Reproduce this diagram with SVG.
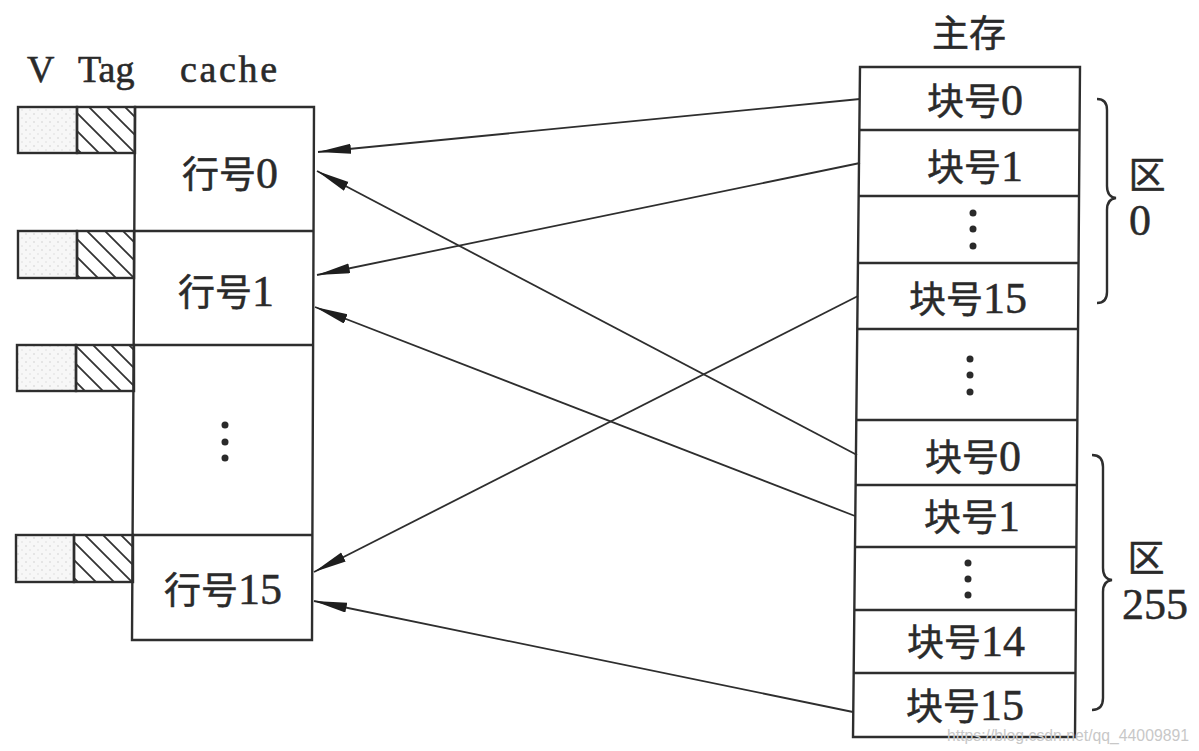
<svg xmlns="http://www.w3.org/2000/svg" width="1199" height="751" viewBox="0 0 1199 751">
<style>
.box{fill:#fff;stroke:#2e2e2e;stroke-width:2.4}
.ln{stroke:#2e2e2e;stroke-width:2.4;fill:none}
.v{fill:url(#dots);stroke:#2e2e2e;stroke-width:2.4}
.t{fill:url(#hatch);stroke:#2e2e2e;stroke-width:2.4}
.lbl{font-family:"Liberation Serif","Noto Sans CJK SC",serif;font-size:37px;fill:#2a2a2a;stroke:#2a2a2a;stroke-width:0.5;text-anchor:middle}
.num{font-family:"Liberation Serif",serif;font-size:44px}
.hdr{font-family:"Liberation Serif","Noto Sans CJK SC",serif;font-size:38px;fill:#2a2a2a;stroke:#2a2a2a;stroke-width:0.6}
.dot{fill:#2a2a2a}
.conn{stroke:#2e2e2e;stroke-width:1.8;fill:none;marker-end:url(#ah)}
.brace{stroke:#2e2e2e;stroke-width:2.4;fill:none}
.wm{font-family:"Liberation Sans",sans-serif;font-size:17px;fill:#c8c8c8}
</style>
<defs>
<pattern id="hatch" patternUnits="userSpaceOnUse" width="18" height="18">
<path d="M-4,-4 L22,22 M-4,14 L4,22 M14,-4 L22,4" stroke="#333" stroke-width="1.8"/>
</pattern>
<pattern id="dots" patternUnits="userSpaceOnUse" width="8" height="8">
<rect width="8" height="8" fill="#f7f7f7"/>
<circle cx="2" cy="2" r="0.8" fill="#d0d0d0"/>
<circle cx="6" cy="6" r="0.8" fill="#dcdcdc"/>
</pattern>
<marker id="ah" markerUnits="userSpaceOnUse" markerWidth="34" markerHeight="12" refX="33" refY="5" orient="auto">
<path d="M0,0 L33,5 L0,10 Z" fill="#1e1e1e"/>
</marker>
</defs>
<rect width="1199" height="751" fill="#fff"/>

<g id="headers">
<text class="hdr" x="27" y="82">V</text>
<text class="hdr" x="78" y="82">Tag</text>
<text class="hdr" x="180" y="82" textLength="97">cache</text>
<text class="lbl" x="969" y="47">主存</text>
</g>

<g id="cache">
<polygon class="box" points="135,107 314,107 312,640 132,640"/>
<line class="ln" x1="135" y1="231" x2="314" y2="231"/>
<line class="ln" x1="134" y1="345" x2="313" y2="345"/>
<line class="ln" x1="133" y1="535" x2="312" y2="535"/>
</g>

<g id="cache-line0">
<rect class="v" x="18" y="107" width="59" height="46"/>
<rect class="t" x="77" y="107" width="58" height="46"/>
<text class="lbl" x="230" y="188">行号<tspan class="num">0</tspan></text>
</g>
<g id="cache-line1">
<rect class="v" x="18" y="231" width="59" height="47"/>
<rect class="t" x="77" y="231" width="57" height="47"/>
<text class="lbl" x="226" y="306">行号<tspan class="num">1</tspan></text>
</g>
<g id="cache-dots">
<rect class="v" x="17" y="345" width="59" height="46"/>
<rect class="t" x="76" y="345" width="58" height="46"/>
<circle class="dot" cx="225" cy="425" r="3.5"/>
<circle class="dot" cx="225" cy="442" r="3.5"/>
<circle class="dot" cx="225" cy="458" r="3.5"/>
</g>
<g id="cache-line15">
<rect class="v" x="16" y="535" width="58" height="47"/>
<rect class="t" x="74" y="535" width="59" height="47"/>
<text class="lbl" x="223" y="604">行号<tspan class="num">15</tspan></text>
</g>

<g id="memory">
<polygon class="box" points="860,67 1080,67 1075,737 853,737"/>
<line class="ln" x1="859" y1="130" x2="1080" y2="130"/>
<line class="ln" x1="859" y1="196" x2="1079" y2="196"/>
<line class="ln" x1="858" y1="263" x2="1078" y2="263"/>
<line class="ln" x1="857" y1="329" x2="1078" y2="329"/>
<line class="ln" x1="856" y1="420" x2="1077" y2="420"/>
<line class="ln" x1="856" y1="485" x2="1077" y2="485"/>
<line class="ln" x1="855" y1="547" x2="1076" y2="547"/>
<line class="ln" x1="854" y1="610" x2="1076" y2="610"/>
<line class="ln" x1="854" y1="673" x2="1075" y2="673"/>
</g>
<g id="mem-z0-b0"><text class="lbl" x="975" y="115">块号<tspan class="num">0</tspan></text></g>
<g id="mem-z0-b1"><text class="lbl" x="975" y="181">块号<tspan class="num">1</tspan></text></g>
<g id="mem-z0-dots">
<circle class="dot" cx="973" cy="213" r="3.5"/>
<circle class="dot" cx="973" cy="229" r="3.5"/>
<circle class="dot" cx="973" cy="246" r="3.5"/>
</g>
<g id="mem-z0-b15"><text class="lbl" x="968" y="313">块号<tspan class="num">15</tspan></text></g>
<g id="mem-mid-dots">
<circle class="dot" cx="970" cy="359" r="3.5"/>
<circle class="dot" cx="970" cy="375" r="3.5"/>
<circle class="dot" cx="970" cy="392" r="3.5"/>
</g>
<g id="mem-z255-b0"><text class="lbl" x="973" y="471">块号<tspan class="num">0</tspan></text></g>
<g id="mem-z255-b1"><text class="lbl" x="972" y="531">块号<tspan class="num">1</tspan></text></g>
<g id="mem-z255-dots">
<circle class="dot" cx="968" cy="563" r="3.5"/>
<circle class="dot" cx="968" cy="579" r="3.5"/>
<circle class="dot" cx="968" cy="595" r="3.5"/>
</g>
<g id="mem-z255-b14"><text class="lbl" x="966" y="656">块号<tspan class="num">14</tspan></text></g>
<g id="mem-z255-b15"><text class="lbl" x="965" y="720">块号<tspan class="num">15</tspan></text></g>

<g id="zone0">
<path class="brace" d="M1097,99 Q1107,99 1107,110 L1107,186 Q1107,197 1116,198 Q1107,199 1107,210 L1107,292 Q1107,303 1097,303"/>
<text class="lbl" x="1147" y="189">区</text>
<text class="lbl" x="1140" y="235"><tspan class="num">0</tspan></text>
</g>
<g id="zone255">
<path class="brace" d="M1092,455 Q1103,455 1103,467 L1103,568 Q1103,579 1112,580 Q1103,581 1103,592 L1103,698 Q1103,710 1092,710"/>
<text class="lbl" x="1146" y="572">区</text>
<text class="lbl" x="1155" y="619"><tspan class="num">255</tspan></text>
</g>

<g id="connectors">
<line class="conn" x1="860" y1="99" x2="318" y2="152"/>
<line class="conn" x1="860" y1="163" x2="317" y2="275"/>
<line class="conn" x1="858" y1="296" x2="314" y2="572"/>
<line class="conn" x1="857" y1="455" x2="317" y2="171"/>
<line class="conn" x1="855" y1="516" x2="315" y2="307"/>
<line class="conn" x1="853" y1="712" x2="314" y2="601"/>
</g>

<text class="wm" x="947" y="741" textLength="242" lengthAdjust="spacingAndGlyphs">https://blog.csdn.net/qq_44009891</text>
</svg>
